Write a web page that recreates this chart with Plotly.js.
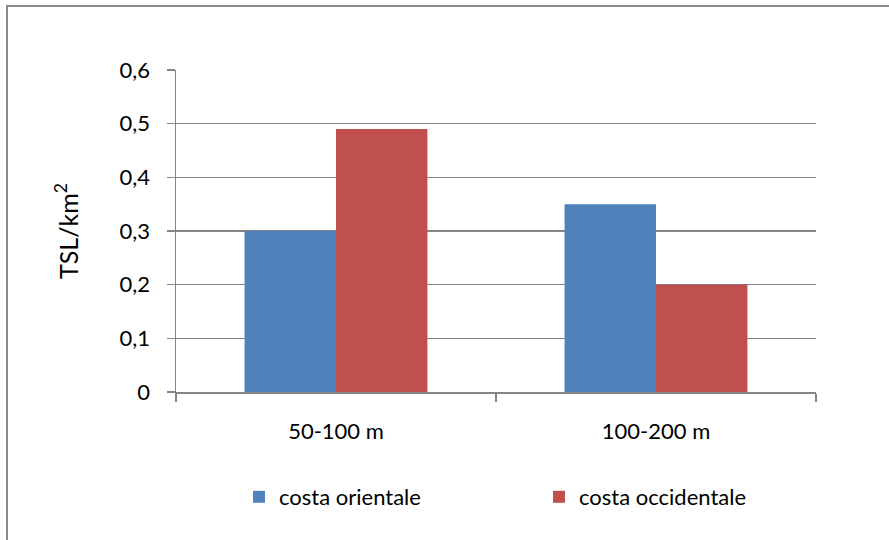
<!DOCTYPE html>
<html>
<head>
<meta charset="utf-8">
<script src="https://cdn.plot.ly/plotly-3.0.1.min.js"></script>
<style>
  html, body { margin: 0; padding: 0; background: #ffffff; }
  #wrap { position: relative; width: 889px; height: 540px; overflow: hidden; }
  #chart { position: absolute; left: 0; top: 0; width: 889px; height: 540px; }
  #frame {
    position: absolute; left: 6px; top: 5px; right: -10px; bottom: -10px;
    border-top: 2px solid #8b8b8b; border-left: 2px solid #8b8b8b;
    pointer-events: none;
  }
</style>
</head>
<body>
<div id="wrap">
  <div id="chart"></div>
  <div id="frame"></div>
</div>
<script>
// Depth bands and TSL density per coast
const categories = ['50-100 m', '100-200 m'];
const seriesNames = ['costa orientale', 'costa occidentale'];
const orientale = [0.30, 0.35];
const occidentale = [0.49, 0.20];
const yTicks = [0, 0.1, 0.2, 0.3, 0.4, 0.5, 0.6];

const FONT = 'Lato, "Open Sans", sans-serif';
const GRID = '#858585';

const traces = [
  {
    type: 'bar', name: seriesNames[0], x: categories, y: orientale,
    marker: { color: '#4F81BD', line: { width: 0 } }, hoverinfo: 'none'
  },
  {
    type: 'bar', name: seriesNames[1], x: categories, y: occidentale,
    marker: { color: '#C0504D', line: { width: 0 } }, hoverinfo: 'none'
  }
];

const layout = {
  width: 889, height: 540,
  margin: { l: 176, r: 73, t: 70, b: 148, pad: 0 },
  paper_bgcolor: '#ffffff', plot_bgcolor: '#ffffff',
  separators: ',.',
  font: { family: FONT, size: 22, color: '#000000' },
  barmode: 'group',
  bargap: 0.4286, bargroupgap: 0,
  showlegend: true,
  legend: {
    orientation: 'h',
    xref: 'container', yref: 'container',
    x: 239 / 889, xanchor: 'left',
    y: 1 - 497 / 540, yanchor: 'middle',
    font: { family: FONT, size: 22, color: '#000000' },
    entrywidthmode: 'pixels', entrywidth: 255,
    traceorder: 'normal',
    bgcolor: 'rgba(0,0,0,0)', borderwidth: 0
  },
  xaxis: {
    type: 'category',
    showgrid: false, zeroline: false,
    showline: true, linecolor: GRID, linewidth: 1.5,
    ticks: 'outside', tickson: 'boundaries', ticklen: 8, tickcolor: GRID, tickwidth: 1.5,
    ticklabelstandoff: 19,
    tickfont: { family: FONT, size: 22, color: '#000000' },
    fixedrange: true
  },
  yaxis: {
    range: [0, 0.6],
    tickmode: 'array', tickvals: yTicks,
    tickformat: '.1~f',
    showgrid: true, gridcolor: GRID, gridwidth: 1.5,
    zeroline: false,
    showline: true, linecolor: GRID, linewidth: 1.5,
    ticks: 'outside', ticklen: 8, tickcolor: GRID, tickwidth: 1.5,
    ticklabelstandoff: 12,
    tickfont: { family: FONT, size: 22, color: '#000000' },
    title: { text: 'TSL/km<sup>2</sup>', standoff: 34, font: { family: FONT, size: 25, color: '#000000' } },
    automargin: false,
    fixedrange: true
  }
};

Plotly.newPlot('chart', traces, layout, { displayModeBar: false, staticPlot: true });
</script>
</body>
</html>
